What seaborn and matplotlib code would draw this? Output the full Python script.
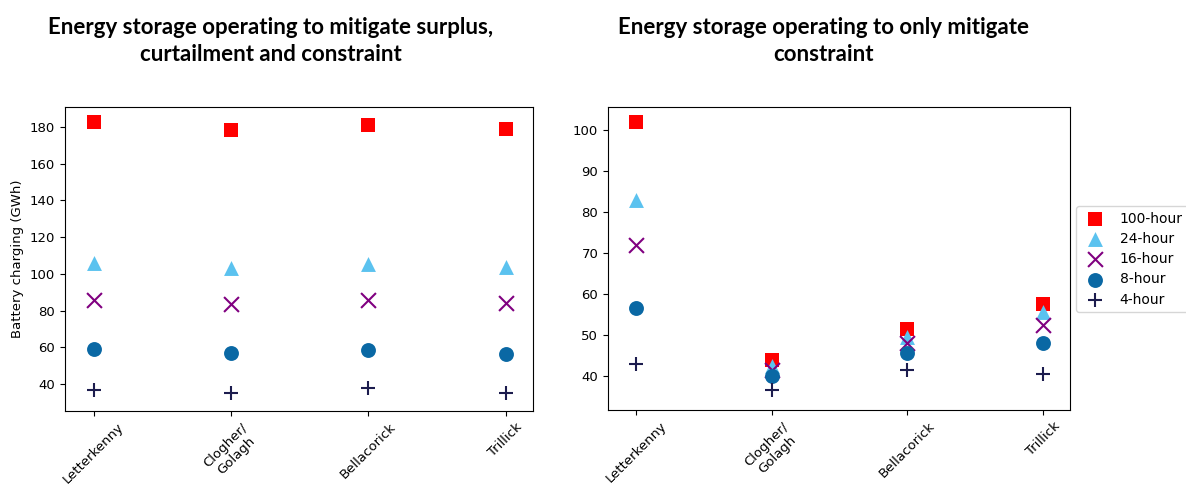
import matplotlib
matplotlib.use("Agg")
import matplotlib.pyplot as plt
import pandas as pd
import seaborn as sns

sites = ["Letterkenny", "Clogher/\nGolagh", "Bellacorick", "Trillick"]
durations = ["100-hour", "24-hour", "16-hour", "8-hour", "4-hour"]

# Battery charging (GWh) when mitigating surplus, curtailment and constraint
full_100h = [182.5, 178.5, 181.0, 179.0]
full_24h = [106.0, 103.0, 105.5, 103.5]
full_16h = [86.0, 83.5, 85.5, 84.0]
full_8h = [59.0, 57.0, 58.5, 56.5]
full_4h = [36.5, 35.0, 38.0, 35.0]

# Battery charging (GWh) when mitigating constraint only
con_100h = [102.0, 44.0, 51.5, 57.5]
con_24h = [83.0, 42.5, 49.5, 55.5]
con_16h = [72.0, 41.5, 48.0, 52.5]
con_8h = [56.5, 40.0, 45.5, 48.0]
con_4h = [43.0, 36.5, 41.5, 40.5]

colors = {"100-hour": "#ff0000", "24-hour": "#5bc2ef", "16-hour": "#800080",
          "8-hour": "#0a68a4", "4-hour": "#1c1c4e"}
markers = {"100-hour": "s", "24-hour": "^", "16-hour": "x",
           "8-hour": "o", "4-hour": "+"}


def long_frame(series):
    rows = []
    for dur, vals in zip(durations, series):
        for i, v in enumerate(vals):
            rows.append({"pos": i, "site": sites[i], "duration": dur, "value": v})
    return pd.DataFrame(rows)


df_full = long_frame([full_100h, full_24h, full_16h, full_8h, full_4h])
df_con = long_frame([con_100h, con_24h, con_16h, con_8h, con_4h])

W, H = 1186, 486
fig = plt.figure(figsize=(W / 100, H / 100), dpi=100)
ax1 = fig.add_axes([65 / W, 1 - 411 / H, 468 / W, 304 / H])
ax2 = fig.add_axes([608 / W, 1 - 410 / H, 462 / W, 303 / H])


def draw(ax, df):
    for dur in durations:
        sub = df[df["duration"] == dur]
        m = markers[dur]
        line_marker = m in ("x", "+")
        sns.scatterplot(data=sub, x="pos", y="value", ax=ax, color=colors[dur],
                        marker=m, s=115, linewidth=1.5 if line_marker else 0,
                        label=dur, legend=True)
    ax.set_xticks(range(len(sites)))
    ax.set_xticklabels(sites, rotation=45, fontsize=9.5)
    ax.tick_params(axis="y", labelsize=9.5)
    ax.set_xlabel("")
    ax.set_ylabel("")
    ax.set_xlim(-0.21, 3.2)


draw(ax1, df_full)
draw(ax2, df_con)

ax1.set_ylim(25.3, 190.9)
ax1.set_yticks(range(40, 181, 20))
ax1.set_ylabel("Battery charging (GWh)", fontsize=9.5)
ax2.set_ylim(31.7, 105.6)
ax2.set_yticks(range(40, 101, 10))

handles, labels = ax2.get_legend_handles_labels()
ax1.get_legend().remove()
ax2.get_legend().remove()
fig.legend(handles, labels, loc="upper left",
           bbox_to_anchor=(1076 / W, 1 - 206 / H), borderaxespad=0,
           fontsize=10, handlelength=2.0, handletextpad=0.75,
           borderpad=0.4, labelspacing=0.45)

title_kw = dict(ha="center", va="center", fontsize=16, fontweight="bold",
                family=["Lato", "DejaVu Sans"], linespacing=1.38)
fig.text(271 / W, 1 - 41 / H,
         "Energy storage operating to mitigate surplus,\ncurtailment and constraint",
         **title_kw)
fig.text(823 / W, 1 - 41 / H,
         "Energy storage operating to only mitigate\nconstraint", **title_kw)

fig.savefig("out.png", dpi=100)
